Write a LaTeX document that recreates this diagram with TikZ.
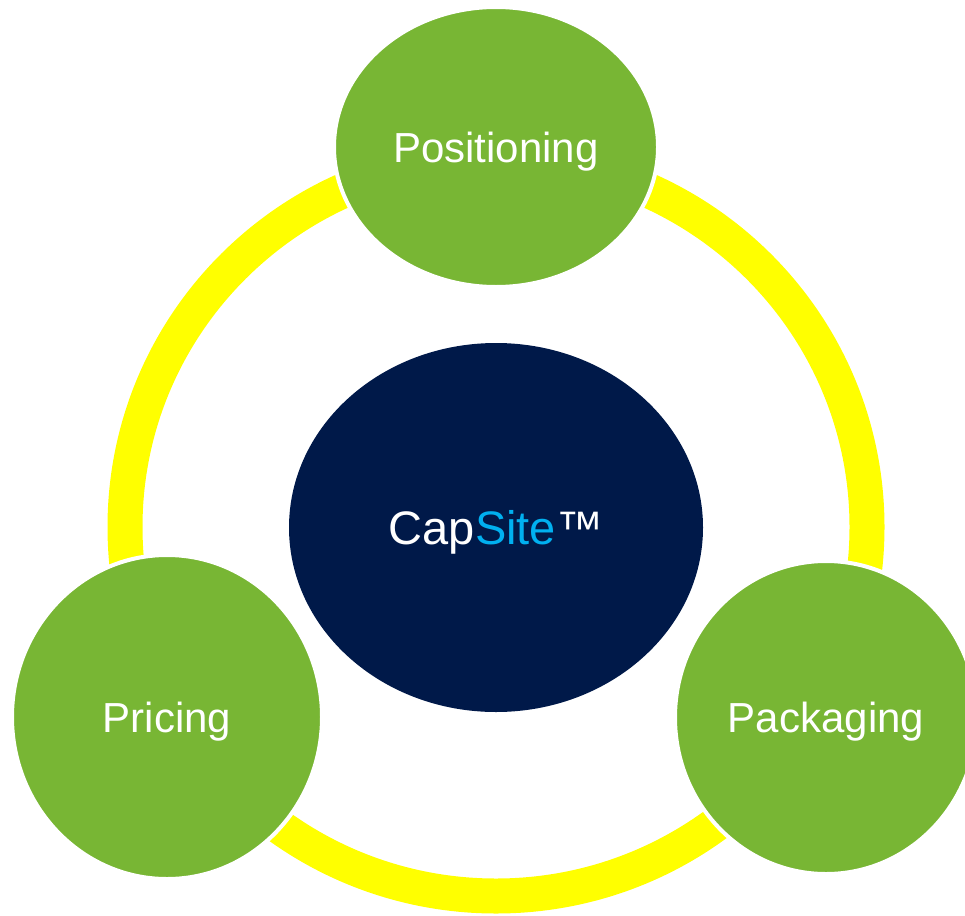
\documentclass[tikz,border=0pt]{standalone}
\usepackage{fontspec}
\setmainfont{Liberation Sans}
\usetikzlibrary{shapes.geometric}
\definecolor{leaf}{RGB}{120,182,52}
\definecolor{navy}{RGB}{0,25,73}
\definecolor{sky}{RGB}{0,176,240}
\definecolor{ringyellow}{RGB}{255,255,0}
\begin{document}
\begin{tikzpicture}[x=1pt,y=-1pt,
  greenball/.style={ellipse, fill=leaf, draw=white, line width=4pt, inner sep=0pt,
    text=white, font=\fontsize{42}{50}\selectfont, text height=30pt, text depth=0pt},
  coreball/.style={ellipse, fill=navy, inner sep=0pt,
    text=white, font=\fontsize{47}{55}\selectfont, text height=34pt, text depth=0pt}]
\useasboundingbox (0,0) rectangle (965,915);
\draw[ringyellow, line width=35pt] (496,527) ellipse [x radius=371, y radius=369];
\node[coreball, minimum width=414pt, minimum height=369pt] (core) at (496,527.5) {Cap\textcolor{sky}{Site}™};
\node[greenball, minimum width=324pt, minimum height=280pt] (pos) at (496,147) {Positioning};
\node[greenball, minimum width=310pt, minimum height=324pt] (pri) at (167,717) {Pricing};
\node[greenball, minimum width=302pt, minimum height=313pt] (pack) at (826,717.5) {Packaging};
\end{tikzpicture}
\end{document}
